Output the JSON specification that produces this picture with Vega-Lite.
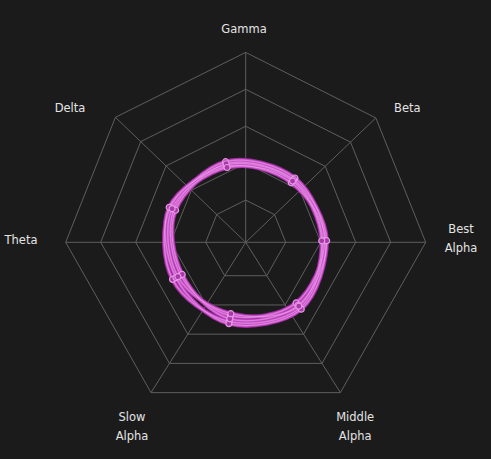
{
  "$schema": "https://vega.github.io/schema/vega-lite/v6.json",
  "width": 491,
  "height": 459,
  "padding": 0,
  "autosize": {"type": "none"},
  "background": "#1b1b1b",
  "config": {"view": {"stroke": null}, "font": "DejaVu Sans"},
  "datasets": {
    "axes": [
      {"axis": "Gamma", "idx": 0, "label": ["Gamma"], "rings": [1, 2, 3, 4, 5]},
      {"axis": "Beta", "idx": 1, "label": ["Beta"], "rings": [1, 2, 3, 4, 5]},
      {"axis": "Best Alpha", "idx": 2, "label": ["Best", "Alpha"], "rings": [1, 2, 3, 4, 5]},
      {"axis": "Middle Alpha", "idx": 3, "label": ["Middle", "Alpha"], "rings": [1, 2, 3, 4, 5]},
      {"axis": "Slow Alpha", "idx": 4, "label": ["Slow", "Alpha"], "rings": [1, 2, 3, 4, 5]},
      {"axis": "Theta", "idx": 5, "label": ["Theta"], "rings": [1, 2, 3, 4, 5]},
      {"axis": "Delta", "idx": 6, "label": ["Delta"], "rings": [1, 2, 3, 4, 5]}
    ],
    "scores": [
      {"series": "S1", "axis": "Gamma", "idx": 0, "value": 2.14},
      {"series": "S1", "axis": "Beta", "idx": 1, "value": 2.09},
      {"series": "S1", "axis": "Best Alpha", "idx": 2, "value": 2.06},
      {"series": "S1", "axis": "Middle Alpha", "idx": 3, "value": 2.29},
      {"series": "S1", "axis": "Slow Alpha", "idx": 4, "value": 2.17},
      {"series": "S1", "axis": "Theta", "idx": 5, "value": 2.2},
      {"series": "S1", "axis": "Delta", "idx": 6, "value": 2.23},
      {"series": "S2", "axis": "Gamma", "idx": 0, "value": 2.23},
      {"series": "S2", "axis": "Beta", "idx": 1, "value": 2.17},
      {"series": "S2", "axis": "Best Alpha", "idx": 2, "value": 2.11},
      {"series": "S2", "axis": "Middle Alpha", "idx": 3, "value": 2.11},
      {"series": "S2", "axis": "Slow Alpha", "idx": 4, "value": 2.0},
      {"series": "S2", "axis": "Theta", "idx": 5, "value": 1.94},
      {"series": "S2", "axis": "Delta", "idx": 6, "value": 2.11},
      {"series": "S3", "axis": "Gamma", "idx": 0, "value": 2.09},
      {"series": "S3", "axis": "Beta", "idx": 1, "value": 2.0},
      {"series": "S3", "axis": "Best Alpha", "idx": 2, "value": 2.14},
      {"series": "S3", "axis": "Middle Alpha", "idx": 3, "value": 2.34},
      {"series": "S3", "axis": "Slow Alpha", "idx": 4, "value": 2.23},
      {"series": "S3", "axis": "Theta", "idx": 5, "value": 2.09},
      {"series": "S3", "axis": "Delta", "idx": 6, "value": 2.26},
      {"series": "S4", "axis": "Gamma", "idx": 0, "value": 2.17},
      {"series": "S4", "axis": "Beta", "idx": 1, "value": 2.11},
      {"series": "S4", "axis": "Best Alpha", "idx": 2, "value": 2.17},
      {"series": "S4", "axis": "Middle Alpha", "idx": 3, "value": 2.2},
      {"series": "S4", "axis": "Slow Alpha", "idx": 4, "value": 2.09},
      {"series": "S4", "axis": "Theta", "idx": 5, "value": 1.89},
      {"series": "S4", "axis": "Delta", "idx": 6, "value": 2.06},
      {"series": "S5", "axis": "Gamma", "idx": 0, "value": 2.06},
      {"series": "S5", "axis": "Beta", "idx": 1, "value": 2.06},
      {"series": "S5", "axis": "Best Alpha", "idx": 2, "value": 2.03},
      {"series": "S5", "axis": "Middle Alpha", "idx": 3, "value": 2.23},
      {"series": "S5", "axis": "Slow Alpha", "idx": 4, "value": 1.94},
      {"series": "S5", "axis": "Theta", "idx": 5, "value": 2.03},
      {"series": "S5", "axis": "Delta", "idx": 6, "value": 2.17}
    ]
  },
  "layer": [
    {
      "data": {"name": "axes"},
      "transform": [
        {"flatten": ["rings"], "as": ["ring"]},
        {"calculate": "[-90,-43.7,0,57.8,122.2,180,-136.2][datum.idx] * PI / 180", "as": "ang"},
        {"calculate": "[1.055,1,1,0.987,0.987,1,1.003][datum.idx] * (5 + 35 * datum.ring)", "as": "r"},
        {"calculate": "datum.r * cos(datum.ang)", "as": "x"},
        {"calculate": "-datum.r * sin(datum.ang)", "as": "y"}
      ],
      "mark": {"type": "line", "interpolate": "linear-closed", "stroke": "#5e5e5e", "strokeWidth": 1},
      "encoding": {
        "x": {"field": "x", "type": "quantitative", "scale": {"domain": [-245.7, 245.3], "nice": false, "zero": false}, "axis": null},
        "y": {"field": "y", "type": "quantitative", "scale": {"domain": [-216.7, 242.3], "nice": false, "zero": false}, "axis": null},
        "detail": {"field": "ring", "type": "nominal"},
        "order": {"field": "idx", "type": "quantitative"}
      }
    },
    {
      "data": {"name": "axes"},
      "transform": [
        {"calculate": "[-90,-43.7,0,57.8,122.2,180,-136.2][datum.idx] * PI / 180", "as": "ang"},
        {"calculate": "[1.055,1,1,0.987,0.987,1,1.003][datum.idx] * 180", "as": "r"},
        {"calculate": "datum.r * cos(datum.ang)", "as": "x"},
        {"calculate": "-datum.r * sin(datum.ang)", "as": "y"}
      ],
      "mark": {"type": "rule", "stroke": "#5e5e5e", "strokeWidth": 1},
      "encoding": {
        "x": {"field": "x", "type": "quantitative"},
        "y": {"field": "y", "type": "quantitative"},
        "x2": {"datum": 0},
        "y2": {"datum": 0}
      }
    },
    {
      "data": {"name": "axes"},
      "transform": [
        {"calculate": "[-1.7,161.6,215.3,109.5,-113.7,-224.7,-175.7][datum.idx]", "as": "x"},
        {"calculate": "[212.3,133,12.0,-175.3,-175.3,1.6,133][datum.idx]", "as": "y"}
      ],
      "mark": {"type": "text", "align": "center", "baseline": "middle", "fontSize": 11.5, "lineHeight": 19, "color": "#e4e4e4", "font": "DejaVu Sans"},
      "encoding": {
        "x": {"field": "x", "type": "quantitative"},
        "y": {"field": "y", "type": "quantitative"},
        "text": {"field": "label"}
      }
    },
    {
      "data": {"name": "scores"},
      "transform": [
        {"calculate": "(-104 + datum.idx * 360 / 7) * PI / 180", "as": "ang"},
        {"calculate": "5 + 35 * datum.value", "as": "r"},
        {"calculate": "datum.r * cos(datum.ang)", "as": "x"},
        {"calculate": "-datum.r * sin(datum.ang)", "as": "y"}
      ],
      "layer": [
        {
          "mark": {"type": "line", "interpolate": "cardinal-closed", "stroke": "#9c2c9c", "strokeWidth": 4.5},
          "encoding": {
            "x": {"field": "x", "type": "quantitative"},
            "y": {"field": "y", "type": "quantitative"},
            "detail": {"field": "series", "type": "nominal"},
            "order": {"field": "idx", "type": "quantitative"}
          }
        },
        {
          "mark": {"type": "line", "interpolate": "cardinal-closed", "stroke": "#cc58cc", "strokeWidth": 2.6},
          "encoding": {
            "x": {"field": "x", "type": "quantitative"},
            "y": {"field": "y", "type": "quantitative"},
            "detail": {"field": "series", "type": "nominal"},
            "order": {"field": "idx", "type": "quantitative"}
          }
        },
        {
          "mark": {"type": "line", "interpolate": "cardinal-closed", "stroke": "#eca4ec", "strokeWidth": 0.8, "opacity": 0.75},
          "encoding": {
            "x": {"field": "x", "type": "quantitative"},
            "y": {"field": "y", "type": "quantitative"},
            "detail": {"field": "series", "type": "nominal"},
            "order": {"field": "idx", "type": "quantitative"}
          }
        },
        {
          "mark": {"type": "point", "shape": "circle", "filled": true, "size": 36, "fill": "#a83aa8", "stroke": "#e896e8", "strokeWidth": 1.2, "opacity": 1},
          "encoding": {
            "x": {"field": "x", "type": "quantitative"},
            "y": {"field": "y", "type": "quantitative"}
          }
        }
      ]
    }
  ]
}
